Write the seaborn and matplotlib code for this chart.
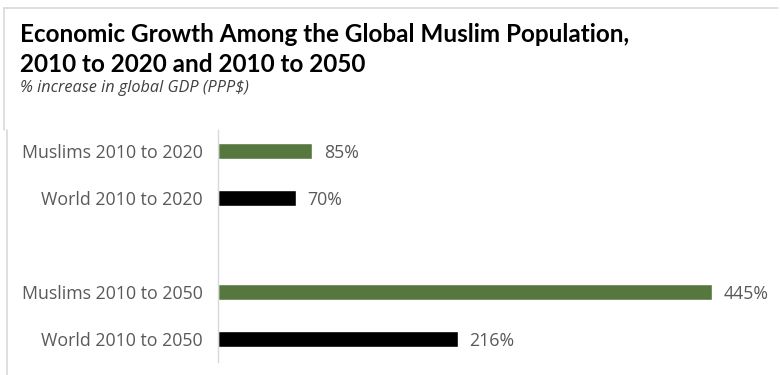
import matplotlib
matplotlib.use("Agg")
import matplotlib.pyplot as plt
from matplotlib.lines import Line2D
import seaborn as sns
import pandas as pd

# Categories and values (% increase in global GDP, PPP$)
categories = ["Muslims 2010 to 2020", "World 2010 to 2020", " ",
              "Muslims 2010 to 2050", "World 2010 to 2050"]
values = [85, 70, None, 445, 216]
groups = ["Muslims", "World", "Muslims", "Muslims", "World"]
value_labels = ["85%", "70%", "", "445%", "216%"]

palette = {"Muslims": "#548235", "World": "#000000"}

df = pd.DataFrame({"category": categories, "value": values, "group": groups})

sns.set_theme(style="white")
plt.rcParams["font.family"] = ["Open Sans", "DejaVu Sans"]

fig = plt.figure(figsize=(7.8, 3.75), dpi=100)
ax = fig.add_axes([0.2795, 0.0347, 0.7115, 0.6193])

sns.barplot(data=df, y="category", x="value", hue="group", palette=palette,
            order=categories, dodge=False, width=0.34, legend=False, ax=ax,
            orient="h")

ax.set_xlim(0, 500)
ax.set_ylim(4.5, -0.45)
ax.set_xlabel("")
ax.set_ylabel("")
ax.set_xticks([])
ax.tick_params(axis="y", length=0, pad=11, labelsize=12.8, labelcolor="#595959")
for name in ["top", "right", "bottom"]:
    ax.spines[name].set_visible(False)
ax.spines["left"].set_color("#d9d9d9")
ax.spines["left"].set_linewidth(1.0)

for i, (v, lab) in enumerate(zip(values, value_labels)):
    if v is None:
        continue
    ax.text(v + 10.5, i, lab, va="center_baseline", ha="left", fontsize=12.8,
            color="#595959")

# Title block
title_font = ["Lato", "DejaVu Sans"]
fig.text(20 / 780, 1 - 35 / 375, "Economic Growth Among the Global Muslim Population,",
         fontsize=17.5, fontweight="bold", color="#000000", va="center",
         family=title_font)
fig.text(20 / 780, 1 - 65 / 375, "2010 to 2020 and 2010 to 2050",
         fontsize=17.5, fontweight="bold", color="#000000", va="center",
         family=title_font)
fig.text(20 / 780, 1 - 88 / 375, "% increase in global GDP (PPP$)",
         fontsize=11.7, style="italic", color="#404040", va="center",
         family=["Open Sans", "DejaVu Sans"])

# Light frame lines
border = "#d9d9d9"
fig.add_artist(Line2D([4 / 780, 778 / 780], [1 - 8 / 375, 1 - 8 / 375],
                      color=border, lw=1.2, transform=fig.transFigure))
fig.add_artist(Line2D([4 / 780, 4 / 780], [1 - 8 / 375, 1 - 130 / 375],
                      color=border, lw=1.2, transform=fig.transFigure))
fig.add_artist(Line2D([7 / 780, 7 / 780], [1 - 130 / 375, 0],
                      color=border, lw=1.2, transform=fig.transFigure))

fig.savefig("out.png", dpi=100, facecolor="white")
